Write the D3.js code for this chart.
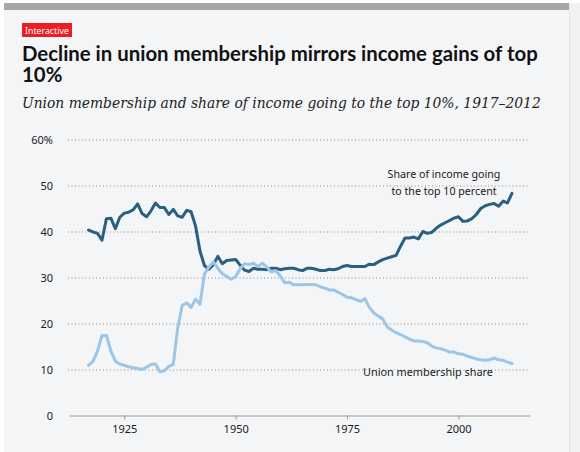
<!DOCTYPE html>
<html>
<head>
<meta charset="utf-8">
<script src="https://cdn.jsdelivr.net/npm/d3@7"></script>
<style>
  html, body { margin: 0; padding: 0; background: #ffffff; }
  svg { display: block; }
</style>
</head>
<body>
<svg id="chart" width="580" height="452"></svg>
<script>
// ---------- DATA ----------
const years = [1917,1918,1919,1920,1921,1922,1923,1924,1925,1926,1927,1928,1929,1930,1931,1932,1933,1934,1935,1936,1937,1938,1939,1940,1941,1942,1943,1944,1945,1946,1947,1948,1949,1950,1951,1952,1953,1954,1955,1956,1957,1958,1959,1960,1961,1962,1963,1964,1965,1966,1967,1968,1969,1970,1971,1972,1973,1974,1975,1976,1977,1978,1979,1980,1981,1982,1983,1984,1985,1986,1987,1988,1989,1990,1991,1992,1993,1994,1995,1996,1997,1998,1999,2000,2001,2002,2003,2004,2005,2006,2007,2008,2009,2010,2011,2012];

const incomeTop10 = [40.3,39.9,39.6,38.1,42.8,42.9,40.6,43.1,44.0,44.2,44.7,46.0,43.9,43.2,44.5,46.2,45.2,45.2,43.7,44.8,43.4,43.1,44.6,44.3,41.2,35.7,32.6,31.8,32.8,34.6,33.0,33.7,33.8,33.9,32.7,31.6,31.3,32.0,31.8,31.8,31.7,32.0,32.0,31.7,31.9,32.0,32.0,31.7,31.5,32.0,32.0,31.8,31.5,31.5,31.8,31.7,31.9,32.4,32.6,32.4,32.4,32.4,32.4,32.9,32.8,33.4,33.9,34.2,34.5,34.8,36.8,38.6,38.6,38.8,38.4,40.0,39.6,39.8,40.7,41.4,41.9,42.4,42.9,43.2,42.2,42.3,42.8,43.7,45.0,45.6,45.9,46.1,45.5,46.6,46.2,48.3];

const unionShare = [10.9,11.8,14.0,17.4,17.4,14.0,11.8,11.2,10.9,10.6,10.4,10.2,10.0,10.5,11.1,11.2,9.5,9.7,10.7,11.1,19.1,23.9,24.5,23.5,25.3,24.2,30.8,32.3,33.4,32.0,30.8,30.2,29.6,30.2,31.9,33.0,32.8,33.1,32.4,33.1,32.3,31.2,31.5,30.4,28.8,29.0,28.4,28.4,28.4,28.5,28.5,28.4,28.0,27.7,27.3,27.3,26.8,26.3,25.7,25.6,25.2,24.8,25.4,23.5,22.3,21.6,21.0,19.3,18.6,18.0,17.6,17.1,16.6,16.2,16.2,16.1,15.8,15.1,14.7,14.5,14.2,13.8,13.8,13.4,13.3,12.9,12.6,12.3,12.1,12.0,12.1,12.5,12.1,12.0,11.6,11.3];

const xTickValues = [1925, 1950, 1975, 2000];
const yTickValues = [0, 10, 20, 30, 40, 50, 60];
const yTickLabels = ["0", "10", "20", "30", "40", "50", "60%"];

const badgeText = "Interactive";
const titleLines = ["Decline in union membership mirrors income gains of top", "10%"];
const subtitleText = "Union membership and share of income going to the top 10%, 1917\u20132012";
const incomeLabel = ["Share of income going", "to the top 10 percent"];
const unionLabel = "Union membership share";

// ---------- DRAW ----------
const svg = d3.select("#chart");
const W = 580, H = 452;
const SANS = "'Noto Sans', 'Open Sans', sans-serif";

// backgrounds
svg.append("rect").attr("x", 0).attr("y", 0).attr("width", W).attr("height", H).attr("fill", "#ffffff");
svg.append("rect").attr("x", 569).attr("y", 3).attr("width", 11).attr("height", H - 3).attr("fill", "#f1f1f1");
svg.append("rect").attr("x", 4).attr("y", 3).attr("width", 565).attr("height", H - 3).attr("fill", "#f4f5f7");
svg.append("line").attr("x1", 569.5).attr("x2", 569.5).attr("y1", 3).attr("y2", H).attr("stroke", "#e4e4e4");
svg.append("rect").attr("x", 4).attr("y", 3).attr("width", 565).attr("height", 7).attr("fill", "#a7a7a7");

// helper: fit text to a target width
function fit(sel, targetW) {
  const fs = parseFloat(sel.attr("font-size"));
  const w = sel.node().getComputedTextLength();
  if (w > 0) sel.attr("font-size", (fs * targetW / w).toFixed(2));
}

// badge
svg.append("rect").attr("x", 22).attr("y", 23).attr("width", 50).attr("height", 14).attr("fill", "#ee1c25");
const badge = svg.append("text").attr("x", 25).attr("y", 33.5)
  .attr("font-family", SANS).attr("font-size", 9)
  .attr("fill", "#ffffff").text(badgeText);
fit(badge, 44);

// title (single text element, two lines)
const title = svg.append("text").attr("x", 22).attr("y", 61)
  .attr("font-family", "Lato, 'Noto Sans', sans-serif").attr("font-weight", "bold")
  .attr("font-size", 20).attr("fill", "#111111");
const t1 = title.append("tspan").attr("x", 22).attr("y", 61).text(titleLines[0]);
{
  const w = t1.node().getComputedTextLength();
  if (w > 0) title.attr("font-size", (20 * 516 / w).toFixed(2));
}
title.append("tspan").attr("x", 22).attr("y", 82).text(titleLines[1]);

// subtitle
const st = svg.append("text").attr("x", 22).attr("y", 108)
  .attr("font-family", "'DejaVu Serif', 'Liberation Serif', serif").attr("font-style", "italic")
  .attr("font-size", 16).attr("fill", "#222222").text(subtitleText);
fit(st, 519);

// scales
const x = d3.scaleLinear().domain([1912.6, 2016.05]).range([69, 530]);
const y = d3.scaleLinear().domain([0, 60]).range([415.5, 139.5]);

// gridlines (dotted)
const grid = svg.append("g").attr("transform", "translate(68,0)")
  .call(d3.axisRight(y).tickValues(yTickValues.filter(d => d > 0)).tickSize(462).tickFormat(""));
grid.select(".domain").remove();
grid.selectAll("line").attr("stroke", "#8a8a8a").attr("stroke-dasharray", "1,2.5").attr("stroke-width", 1);

// y axis labels
const yAxis = svg.append("g").attr("transform", "translate(68,0)")
  .call(d3.axisLeft(y).tickValues(yTickValues).tickSize(0).tickPadding(15)
    .tickFormat((d, i) => yTickLabels[i]));
yAxis.select(".domain").remove();
yAxis.selectAll("text").attr("font-family", SANS)
  .attr("font-size", 11).attr("fill", "#1a1a1a").attr("dy", "0.55em").attr("y", -2);

// x axis
const xAxis = svg.append("g").attr("transform", "translate(0,415.5)")
  .call(d3.axisBottom(x).tickValues(xTickValues).tickSize(4).tickSizeOuter(0).tickPadding(6)
    .tickFormat(d3.format("d")));
xAxis.select(".domain").attr("stroke", "#9a9a9a");
xAxis.selectAll("line").attr("stroke", "#9a9a9a");
xAxis.selectAll("text").attr("font-family", SANS)
  .attr("font-size", 11).attr("fill", "#1a1a1a");

// lines
const lineGen = d3.line().x((d, i) => x(years[i])).y(d => y(d));
svg.append("path").datum(incomeTop10).attr("d", lineGen)
  .attr("fill", "none").attr("stroke", "#2a5f7f").attr("stroke-width", 3)
  .attr("stroke-linejoin", "round").attr("stroke-linecap", "round");
svg.append("path").datum(unionShare).attr("d", lineGen)
  .attr("fill", "none").attr("stroke", "#9cc5e6").attr("stroke-width", 3)
  .attr("stroke-linejoin", "round").attr("stroke-linecap", "round");

// labels
const lab1 = svg.append("text").attr("x", 444).attr("y", 178).attr("text-anchor", "middle")
  .attr("font-family", SANS).attr("font-size", 11.5)
  .attr("fill", "#1a1a1a").text(incomeLabel[0]);
fit(lab1, 113);
svg.append("text").attr("x", 444).attr("y", 195).attr("text-anchor", "middle")
  .attr("font-family", SANS).attr("font-size", lab1.attr("font-size"))
  .attr("fill", "#1a1a1a").text(incomeLabel[1]);
const lab2 = svg.append("text").attr("x", 363).attr("y", 376)
  .attr("font-family", SANS).attr("font-size", 11.5)
  .attr("fill", "#1a1a1a").text(unionLabel);
fit(lab2, 130);
</script>
</body>
</html>
